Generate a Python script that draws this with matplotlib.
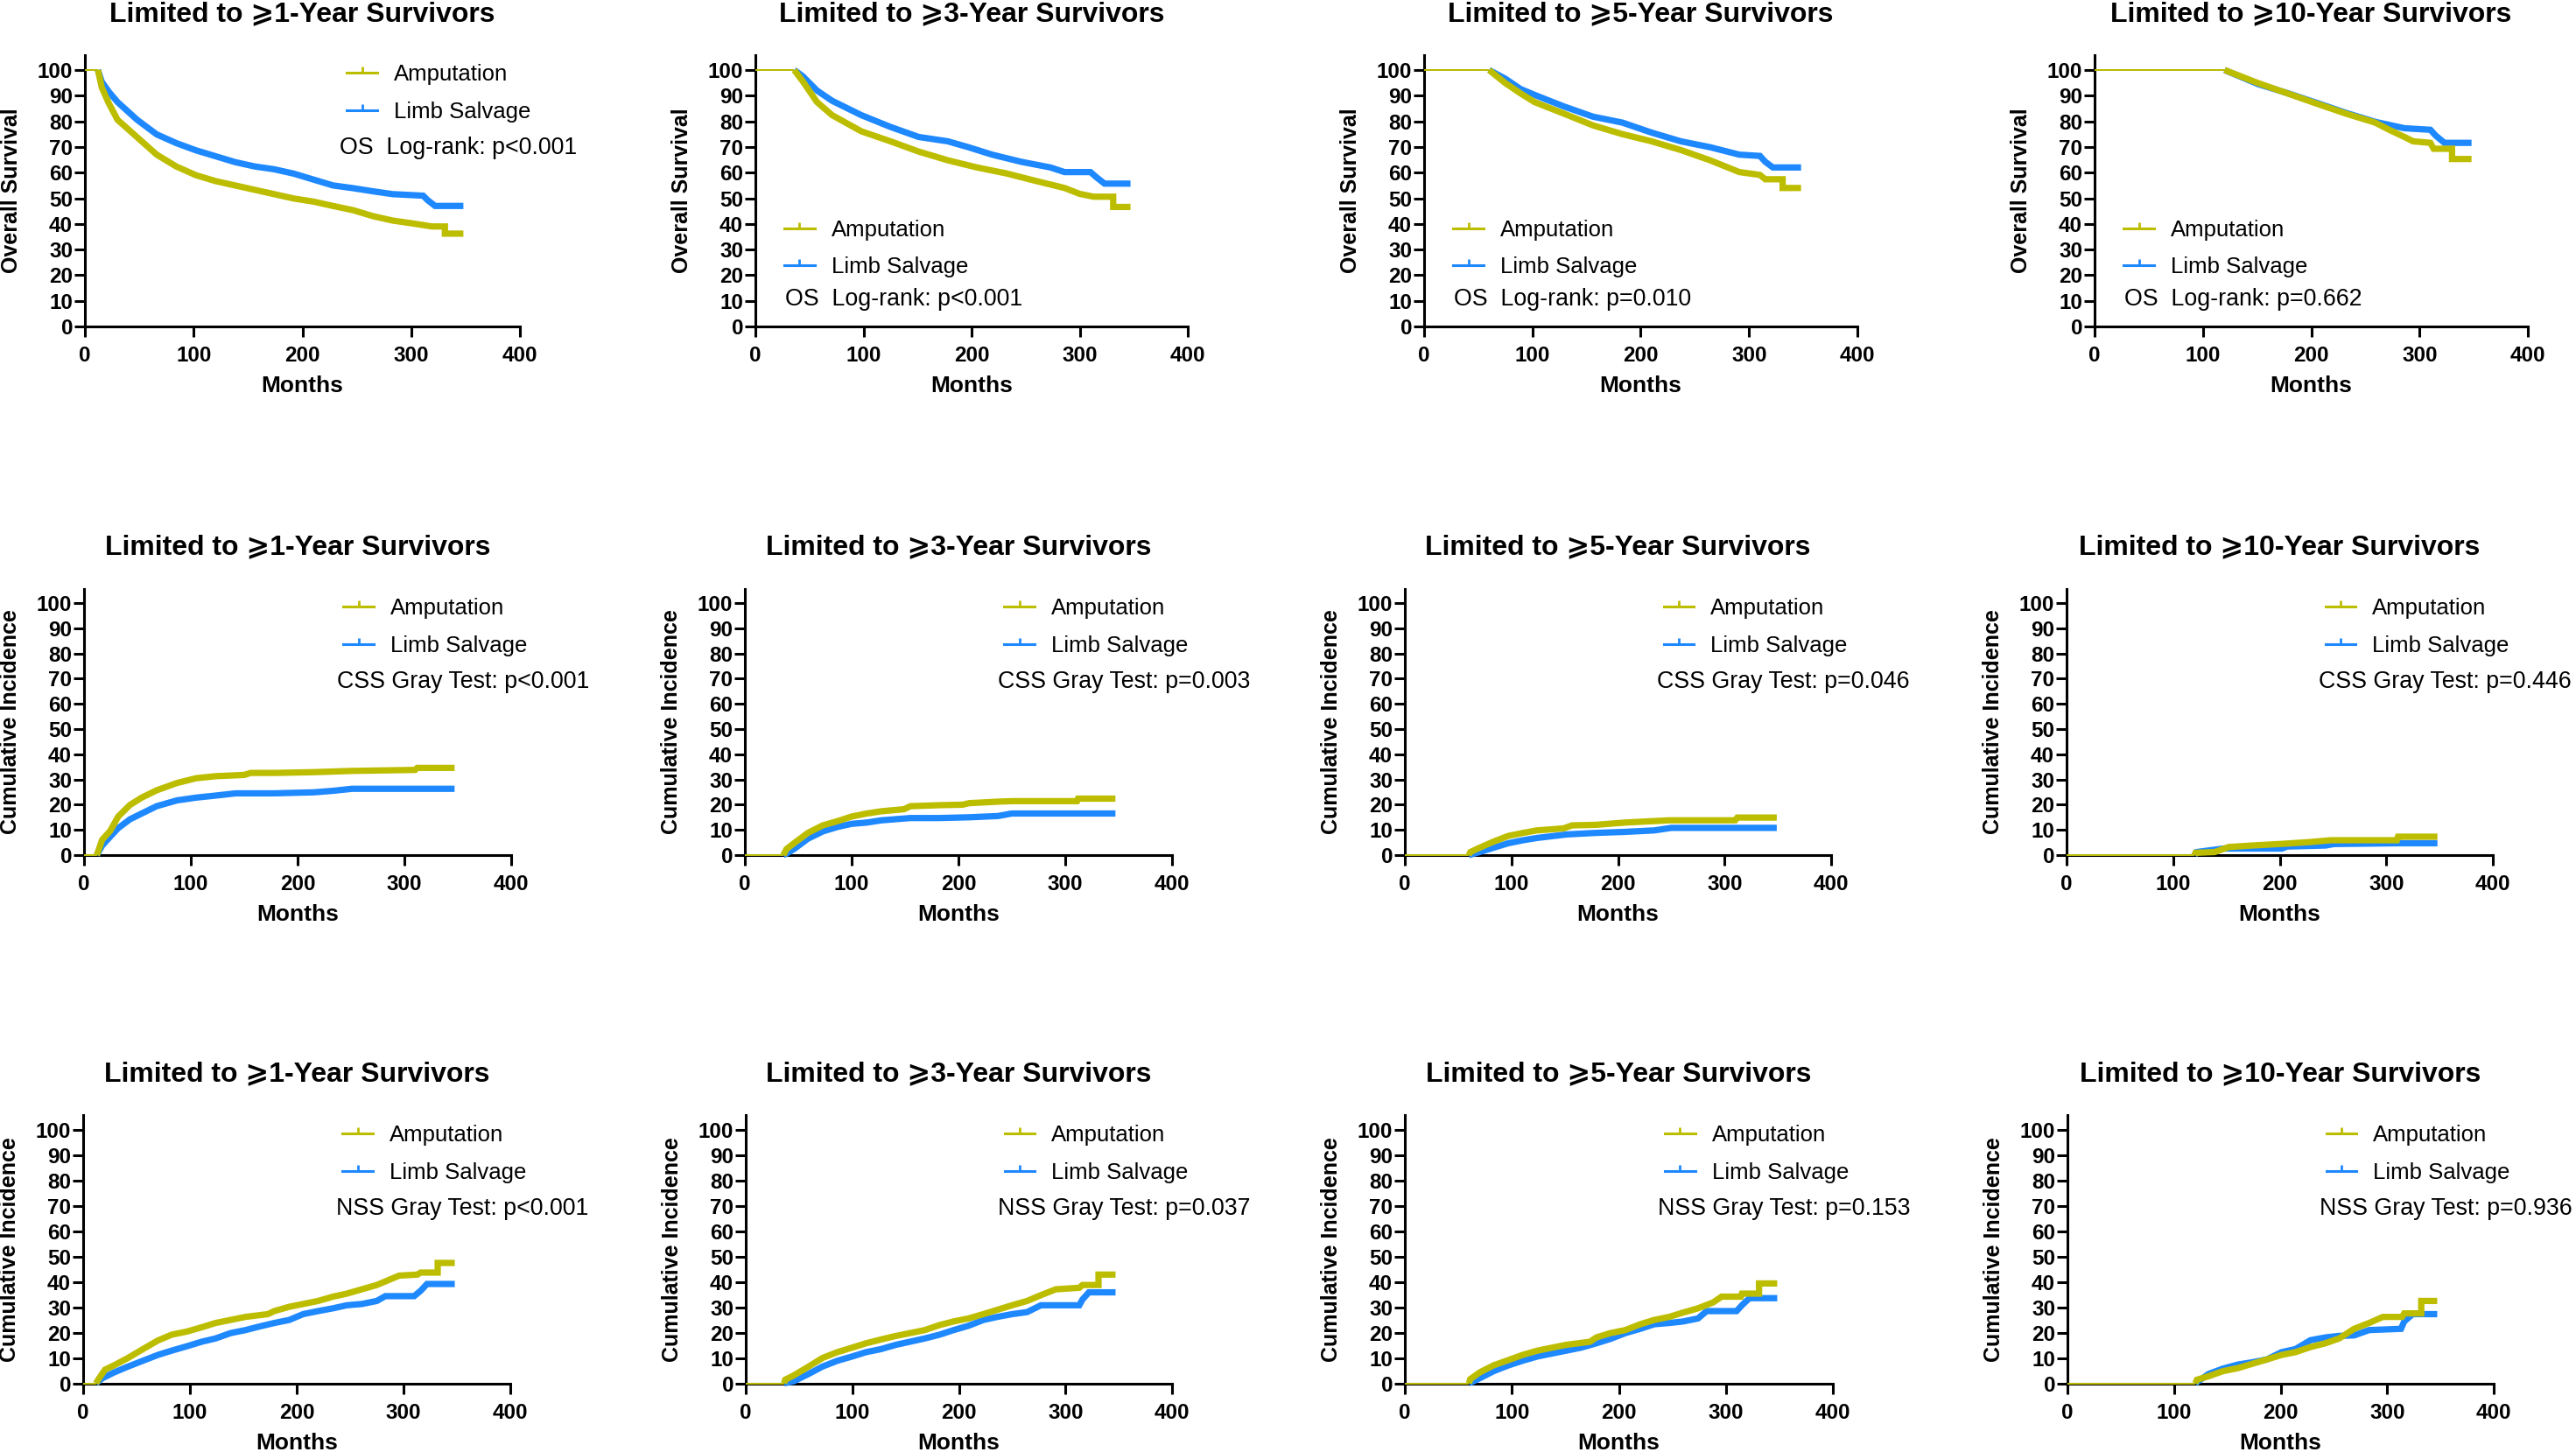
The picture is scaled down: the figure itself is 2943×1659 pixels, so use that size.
import matplotlib
matplotlib.use('Agg')
import matplotlib.pyplot as plt
from matplotlib.lines import Line2D
from matplotlib.path import Path
import numpy as np

plt.rcParams['font.family'] = ['Liberation Sans', 'DejaVu Sans']

AMP_COLOR = '#BDBD00'
LS_COLOR = '#1E88FF'

GROUPS = ['Amputation', 'Limb Salvage']
LANDMARK_YEARS = ['1', '3', '5', '10']
LANDMARK_MONTHS = [12, 36, 60, 120]
ROW_YLABELS = ['Overall Survival', 'Cumulative Incidence', 'Cumulative Incidence']
P_TEXTS = [
    ['OS  Log-rank: p<0.001', 'OS  Log-rank: p<0.001', 'OS  Log-rank: p=0.010', 'OS  Log-rank: p=0.662'],
    ['CSS Gray Test: p<0.001', 'CSS Gray Test: p=0.003', 'CSS Gray Test: p=0.046', 'CSS Gray Test: p=0.446'],
    ['NSS Gray Test: p<0.001', 'NSS Gray Test: p=0.037', 'NSS Gray Test: p=0.153', 'NSS Gray Test: p=0.936'],
]
XTICKS = [0, 100, 200, 300, 400]
YTICKS = list(range(0, 101, 10))

# ---------------- Overall survival ----------------
OS1_AMP_T = [0, 12, 15.5, 22, 30, 48, 66, 84, 102, 120, 138, 156, 174, 192, 210, 228, 247, 265, 283, 301, 319, 331, 331, 348]
OS1_AMP_V = [100, 100, 93.2, 87.0, 80.6, 73.8, 67.0, 62.4, 59.0, 56.7, 55.0, 53.3, 51.6, 49.9, 48.7, 47.0, 45.3, 43.0, 41.3, 40.2, 39.0, 39.0, 36.2, 36.2]
OS1_LS_T = [0, 12, 15.5, 22, 30, 48, 66, 84, 102, 120, 138, 156, 174, 192, 210, 228, 247, 265, 283, 311, 315, 322, 348]
OS1_LS_V = [100, 100, 95.4, 91.5, 87.5, 80.6, 74.9, 71.5, 68.7, 66.4, 64.1, 62.4, 61.3, 59.6, 57.3, 55.0, 53.9, 52.7, 51.6, 51.0, 49.3, 47.0, 47.0]

OS3_AMP_T = [0, 36, 44, 57, 71, 98, 125, 151, 178, 205, 232, 259, 286, 300, 313, 331, 331, 347]
OS3_AMP_V = [100, 100, 95.5, 87.5, 82.4, 76.1, 72.2, 68.2, 64.8, 62.0, 59.7, 56.8, 54.0, 51.7, 50.6, 50.6, 46.6, 46.6]
OS3_LS_T = [0, 36, 44, 57, 71, 98, 125, 151, 178, 197, 219, 246, 273, 286, 310, 316, 323, 347]
OS3_LS_V = [100, 100, 97.5, 92.0, 88.0, 82.4, 77.8, 73.9, 72.2, 69.9, 67.0, 64.2, 62.0, 60.2, 60.2, 58.0, 55.7, 55.7]

OS5_AMP_T = [0, 60, 75, 89, 102, 129, 156, 183, 210, 237, 264, 291, 310, 315, 331, 331, 348]
OS5_AMP_V = [100, 100, 94.9, 90.9, 87.5, 83.0, 78.4, 75.0, 72.2, 68.8, 64.8, 60.2, 59.1, 57.4, 57.4, 54.0, 54.0]
OS5_LS_T = [0, 60, 75, 89, 102, 129, 156, 183, 210, 237, 264, 291, 310, 315, 322, 348]
OS5_LS_V = [100, 100, 96.6, 92.6, 90.3, 85.8, 81.8, 79.5, 75.6, 72.2, 69.9, 67.0, 66.5, 64.2, 62.0, 62.0]

OS10_AMP_T = [0, 120, 151, 178, 205, 232, 259, 272, 286, 294, 310, 313, 330, 330, 348]
OS10_AMP_V = [100, 100, 94.9, 90.9, 86.9, 83.0, 79.5, 76.7, 73.9, 72.2, 71.6, 69.3, 69.3, 65.3, 65.3]
OS10_LS_T = [0, 120, 151, 178, 205, 232, 259, 286, 310, 315, 323, 348]
OS10_LS_V = [100, 100, 94.5, 91.0, 87.2, 83.3, 79.8, 77.3, 76.7, 74.4, 71.6, 71.6]

# ---------------- Cancer-specific cumulative incidence ----------------
CSS1_AMP_T = [0, 12, 17, 24.5, 32, 43, 54, 68, 87, 105, 123, 150, 156, 178, 215, 251, 310, 312, 347]
CSS1_AMP_V = [0, 0, 6.1, 9.6, 15.3, 19.9, 22.8, 25.7, 28.6, 30.5, 31.3, 31.8, 32.6, 32.6, 32.9, 33.4, 33.8, 34.6, 34.6]
CSS1_LS_T = [0, 12, 17, 24.5, 32, 43, 54, 68, 87, 105, 123, 142, 178, 215, 233, 251, 347]
CSS1_LS_V = [0, 0, 3.8, 7.3, 10.7, 14.2, 16.5, 19.4, 21.7, 22.8, 23.6, 24.5, 24.5, 24.9, 25.5, 26.3, 26.3]

CSS3_AMP_T = [0, 36, 39, 46, 59, 73, 87, 100, 114, 128, 149, 155, 182, 204, 210, 237, 250, 311, 312, 347]
CSS3_AMP_V = [0, 0, 2.4, 4.7, 8.8, 11.8, 13.5, 15.3, 16.5, 17.4, 18.2, 19.4, 19.8, 20.0, 20.6, 21.2, 21.4, 21.4, 22.4, 22.4]
CSS3_LS_T = [0, 36, 39, 46, 59, 73, 87, 100, 114, 128, 155, 182, 210, 237, 250, 347]
CSS3_LS_V = [0, 0, 0.6, 2.4, 6.5, 9.4, 11.2, 12.4, 12.9, 13.8, 14.7, 14.7, 15.0, 15.5, 16.5, 16.5]

CSS5_AMP_T = [0, 60, 61.5, 70, 83, 97, 111, 124, 149, 157, 179, 206, 248, 310, 312, 349]
CSS5_AMP_V = [0, 0, 1.2, 2.9, 5.3, 7.6, 8.8, 9.8, 10.6, 11.8, 12.0, 12.9, 13.8, 13.8, 14.9, 14.9]
CSS5_LS_T = [0, 60, 70, 83, 97, 111, 124, 152, 179, 206, 234, 250, 349]
CSS5_LS_V = [0, 0, 1.2, 2.9, 4.7, 5.9, 6.8, 8.2, 8.8, 9.2, 9.8, 10.8, 10.8]

CSS10_AMP_T = [0, 120, 121, 139, 152, 174, 204, 229, 248, 310, 311, 348]
CSS10_AMP_V = [0, 0, 0.9, 1.2, 3.2, 3.8, 4.5, 5.2, 5.9, 5.9, 7.3, 7.3]
CSS10_LS_T = [0, 120, 122, 147, 202, 207, 243, 251, 311, 348]
CSS10_LS_V = [0, 0, 1.2, 2.6, 2.6, 3.4, 3.8, 4.4, 4.7, 4.7]

# ---------------- Non-specific cumulative incidence ----------------
NSS1_AMP_T = [0, 12, 15, 20.5, 29, 42, 56, 70, 83, 97, 111, 124, 138, 152, 173, 179, 193, 206, 220, 234, 247, 261, 275, 288, 296, 313, 316, 332, 332, 348]
NSS1_AMP_V = [0, 0, 2.0, 5.4, 7.1, 10.0, 13.5, 16.9, 19.2, 20.4, 22.1, 23.8, 25.0, 26.2, 27.3, 28.5, 30.2, 31.3, 32.5, 34.2, 35.4, 37.1, 38.8, 41.1, 42.5, 42.9, 43.7, 43.7, 47.5, 47.5]
NSS1_LS_T = [0, 12, 18, 29, 42, 56, 70, 83, 97, 111, 124, 138, 152, 165, 179, 193, 206, 220, 234, 247, 261, 275, 283, 310, 316, 322, 348]
NSS1_LS_V = [0, 0, 2.0, 4.3, 6.6, 8.9, 11.2, 12.9, 14.6, 16.4, 17.7, 19.8, 21.0, 22.4, 23.8, 25.0, 27.3, 28.5, 29.6, 30.8, 31.3, 32.5, 34.4, 34.4, 36.5, 39.2, 39.2]

NSS3_AMP_T = [0, 36, 37, 45, 59, 72, 86, 100, 113, 127, 141, 154, 168, 182, 195, 209, 223, 236, 250, 264, 277, 291, 313, 316, 331, 331, 347]
NSS3_AMP_V = [0, 0, 1.4, 3.1, 6.6, 10.0, 12.3, 14.1, 15.8, 17.3, 18.7, 19.8, 21.0, 23.0, 24.4, 25.6, 27.3, 29.0, 30.8, 32.5, 34.8, 37.1, 37.7, 38.8, 38.8, 42.9, 42.9]
NSS3_LS_T = [0, 36, 45, 59, 72, 86, 100, 113, 127, 141, 154, 168, 182, 195, 209, 223, 236, 250, 264, 277, 313, 316, 322, 347]
NSS3_LS_V = [0, 0, 0.8, 3.7, 6.6, 8.9, 10.6, 12.3, 13.5, 15.2, 16.4, 17.7, 19.2, 21.0, 22.7, 25.0, 26.2, 27.3, 28.1, 30.8, 30.8, 33.1, 35.9, 35.9]

NSS5_AMP_T = [0, 60, 61, 70, 83, 97, 110, 124, 138, 151, 173, 179, 192, 206, 220, 233, 247, 260, 274, 288, 296, 314, 315, 331, 331, 348]
NSS5_AMP_V = [0, 0, 1.6, 4.3, 7.1, 9.2, 11.2, 12.9, 14.1, 15.2, 16.4, 18.1, 19.8, 21.0, 23.3, 25.0, 26.2, 27.9, 29.6, 31.9, 34.2, 34.2, 35.4, 35.4, 39.4, 39.4]
NSS5_LS_T = [0, 60, 70, 83, 97, 110, 124, 138, 151, 165, 179, 192, 206, 220, 233, 247, 260, 274, 282, 310, 315, 322, 348]
NSS5_LS_V = [0, 0, 2.0, 4.8, 7.1, 8.9, 10.6, 11.8, 12.9, 14.1, 15.8, 17.5, 19.8, 21.5, 23.3, 23.8, 24.4, 25.6, 28.5, 28.5, 30.8, 33.6, 33.6]

NSS10_AMP_T = [0, 120, 121.5, 132.5, 146, 160, 173.5, 187, 201, 214, 228, 242, 255, 269, 283, 296, 314, 316, 332, 332, 347]
NSS10_AMP_V = [0, 0, 1.4, 2.8, 4.8, 6.0, 7.7, 9.4, 11.2, 12.3, 14.3, 15.8, 17.7, 21.5, 23.8, 26.2, 26.2, 27.6, 27.6, 32.5, 32.5]
NSS10_LS_T = [0, 120, 132.5, 146, 160, 173.5, 187, 201, 214, 228, 242, 255, 269, 283, 313, 316, 324, 347]
NSS10_LS_V = [0, 0, 3.7, 5.8, 7.4, 8.3, 9.4, 12.3, 13.5, 17.0, 18.1, 18.7, 18.9, 21.0, 21.5, 24.4, 27.3, 27.3]

CURVES = [
    [(OS1_AMP_T, OS1_AMP_V, OS1_LS_T, OS1_LS_V), (OS3_AMP_T, OS3_AMP_V, OS3_LS_T, OS3_LS_V),
     (OS5_AMP_T, OS5_AMP_V, OS5_LS_T, OS5_LS_V), (OS10_AMP_T, OS10_AMP_V, OS10_LS_T, OS10_LS_V)],
    [(CSS1_AMP_T, CSS1_AMP_V, CSS1_LS_T, CSS1_LS_V), (CSS3_AMP_T, CSS3_AMP_V, CSS3_LS_T, CSS3_LS_V),
     (CSS5_AMP_T, CSS5_AMP_V, CSS5_LS_T, CSS5_LS_V), (CSS10_AMP_T, CSS10_AMP_V, CSS10_LS_T, CSS10_LS_V)],
    [(NSS1_AMP_T, NSS1_AMP_V, NSS1_LS_T, NSS1_LS_V), (NSS3_AMP_T, NSS3_AMP_V, NSS3_LS_T, NSS3_LS_V),
     (NSS5_AMP_T, NSS5_AMP_V, NSS5_LS_T, NSS5_LS_V), (NSS10_AMP_T, NSS10_AMP_V, NSS10_LS_T, NSS10_LS_V)],
]

# ---------------- layout (pixels of the 2943x1659 canvas) ----------------
W, H = 2943, 1659
ROW_Y0 = [373, 977, 1580.5]      # pixel row of value 0
ROW_Y100 = [80, 689, 1291]       # pixel row of value 100
COL_X = [
    [(97, 594), (863, 1357), (1627, 2122), (2393, 2888)],
    [(96, 584), (851, 1339), (1605, 2092), (2361, 2848)],
    [(95, 583), (852, 1339), (1605, 2094), (2362, 2849)],
]
YTOP = 105.7

fig = plt.figure(figsize=(W / 100, H / 100), dpi=100)

tick_path = Path([(0, 0), (0, 1)], [Path.MOVETO, Path.LINETO])


def draw_curve(ax, t, v, lm, color):
    t = np.asarray(t, float)
    v = np.asarray(v, float)
    thin = t <= lm
    thick = t >= lm
    ax.plot(t[thin], v[thin], color=color, lw=1.4, zorder=3, clip_on=False,
            solid_capstyle='butt')
    ax.plot(t[thick], v[thick], color=color, lw=5.2, zorder=3, clip_on=False,
            solid_capstyle='butt', solid_joinstyle='miter')


for r in range(3):
    y0 = ROW_Y0[r]
    y100 = ROW_Y100[r]
    hpx = (y0 - y100) * YTOP / 100.0
    for c in range(4):
        left, right = COL_X[r][c]
        wpx = right - left
        ax = fig.add_axes([left / W, 1 - y0 / H, wpx / W, hpx / H])
        ax.set_xlim(0, 400)
        ax.set_ylim(0, YTOP)
        ax.set_xticks(XTICKS)
        ax.set_yticks(YTICKS)
        for s in ['top', 'right']:
            ax.spines[s].set_visible(False)
        for s in ['left', 'bottom']:
            ax.spines[s].set_linewidth(2.2)
        ax.tick_params(direction='out', length=8.5, width=2.2, labelsize=17.5)
        ax.tick_params(axis='x', pad=7.5)
        ax.tick_params(axis='y', pad=1.5)
        for lbl in ax.get_xticklabels() + ax.get_yticklabels():
            lbl.set_fontweight('bold')

        amp_t, amp_v, ls_t, ls_v = CURVES[r][c]
        lm = LANDMARK_MONTHS[c]
        draw_curve(ax, ls_t, ls_v, lm, LS_COLOR)
        draw_curve(ax, amp_t, amp_v, lm, AMP_COLOR)

        # title
        ty = (y0 - (y100 - 56)) / hpx
        ax.text(0.5, ty, 'Limited to \u2a7e' + LANDMARK_YEARS[c] + '-Year Survivors',
                transform=ax.transAxes, ha='center', va='baseline',
                fontsize=23, fontweight='bold')
        # axis labels
        ax.text(0.5, -68 / hpx, 'Months', transform=ax.transAxes, ha='center',
                va='center', fontsize=19, fontweight='bold')
        ax.text(-84 / wpx, 0.5, ROW_YLABELS[r], transform=ax.transAxes, ha='center',
                va='center', rotation=90, fontsize=18, fontweight='bold')

        # legend + test text
        handles = [Line2D([], [], color=AMP_COLOR, lw=2.2, marker=tick_path, markersize=10,
                          markeredgewidth=2.0),
                   Line2D([], [], color=LS_COLOR, lw=2.2, marker=tick_path, markersize=10,
                          markeredgewidth=2.0)]
        if r == 0 and c > 0:
            leg_xy = (0.067, 30.3 / YTOP)
            txt_xy = (0.069, 10.6 / YTOP)
        elif r == 0:
            leg_xy = (0.6025, 91.0 / YTOP)
            txt_xy = (0.586, 69.6 / YTOP)
        else:
            leg_xy = (0.607, 90.5 / YTOP)
            txt_xy = (0.592, 68.9 / YTOP)
        ax.legend(handles, GROUPS, loc='center left', bbox_to_anchor=leg_xy,
                  frameon=False, fontsize=18.5, handlelength=1.35, handletextpad=0.74,
                  labelspacing=0.72, borderpad=0, borderaxespad=0, numpoints=1)
        ax.text(txt_xy[0], txt_xy[1], P_TEXTS[r][c], transform=ax.transAxes,
                ha='left', va='center', fontsize=19.3)

fig.savefig('out.png', dpi=100, facecolor='white')
